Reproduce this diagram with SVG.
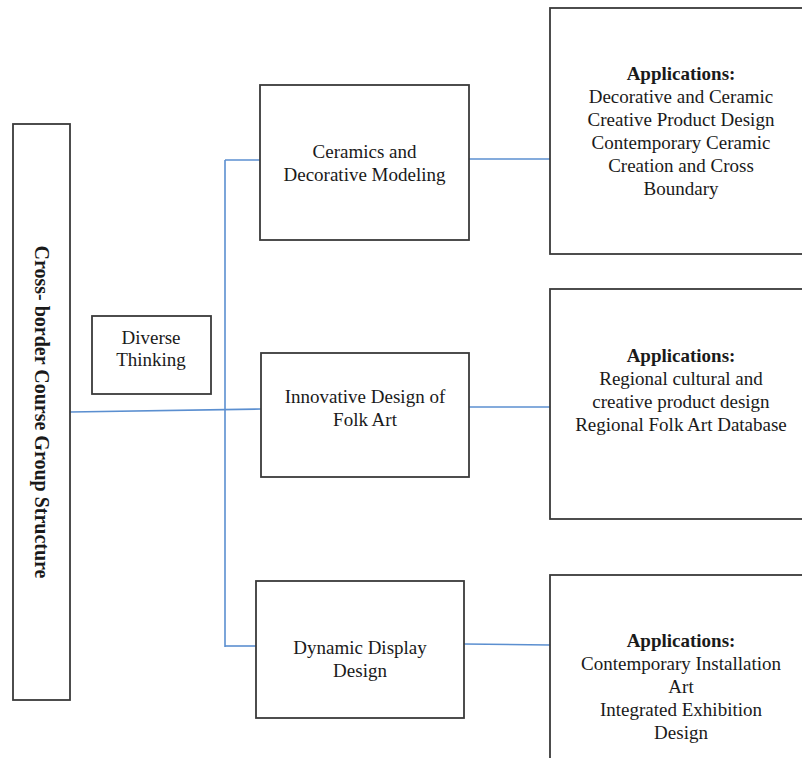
<svg xmlns="http://www.w3.org/2000/svg" width="802" height="758" viewBox="0 0 802 758">
<style>
.box{fill:#fff;stroke:#3a3a3a;stroke-width:1.8}
.t{font-family:"Liberation Serif","Times New Roman",serif;font-size:19px;fill:#1a1a1a;text-anchor:middle}
.b{font-weight:bold}
.c{fill:none;stroke:#5b8fd0;stroke-width:1.6}
</style>
<rect width="802" height="758" fill="#fff"/>
<g id="connectors">
<path class="c" d="M225 160 V647"/>
<path class="c" d="M225 160 H260"/>
<path class="c" d="M225 646 H256"/>
<path class="c" d="M70 412 L261 409"/>
<path class="c" d="M469 159 H550"/>
<path class="c" d="M469 407 H550"/>
<path class="c" d="M464 644 L550 645"/>
</g>
<g id="root">
<rect class="box" x="13" y="124" width="57" height="576"/>
<text class="t b" font-size="20" transform="translate(35 412) rotate(90)" style="font-size:20px">Cross- border Course Group Structure</text>
</g>
<g id="diverse">
<rect class="box" x="92" y="316" width="119" height="78"/>
<text class="t" x="151" y="344">Diverse</text>
<text class="t" x="151" y="366">Thinking</text>
</g>
<g id="ceramics">
<rect class="box" x="260" y="85" width="209" height="155"/>
<text class="t" x="364.5" y="158">Ceramics and</text>
<text class="t" x="364.5" y="181">Decorative Modeling</text>
</g>
<g id="folk">
<rect class="box" x="261" y="353" width="208" height="124"/>
<text class="t" x="365" y="403">Innovative Design of</text>
<text class="t" x="365" y="426">Folk Art</text>
</g>
<g id="dynamic">
<rect class="box" x="256" y="581" width="208" height="137"/>
<text class="t" x="360" y="654">Dynamic Display</text>
<text class="t" x="360" y="677">Design</text>
</g>
<g id="app1">
<rect class="box" x="550" y="8" width="270" height="246"/>
<text class="t b" x="681" y="80">Applications:</text>
<text class="t" x="681" y="103">Decorative and Ceramic</text>
<text class="t" x="681" y="126">Creative Product Design</text>
<text class="t" x="681" y="149">Contemporary Ceramic</text>
<text class="t" x="681" y="172">Creation and Cross</text>
<text class="t" x="681" y="195">Boundary</text>
</g>
<g id="app2">
<rect class="box" x="550" y="289" width="270" height="230"/>
<text class="t b" x="681" y="362">Applications:</text>
<text class="t" x="681" y="385">Regional cultural and</text>
<text class="t" x="681" y="408">creative product design</text>
<text class="t" x="681" y="431">Regional Folk Art Database</text>
</g>
<g id="app3">
<rect class="box" x="550" y="575" width="270" height="200"/>
<text class="t b" x="681" y="647">Applications:</text>
<text class="t" x="681" y="670">Contemporary Installation</text>
<text class="t" x="681" y="693">Art</text>
<text class="t" x="681" y="716">Integrated Exhibition</text>
<text class="t" x="681" y="739">Design</text>
</g>
</svg>
